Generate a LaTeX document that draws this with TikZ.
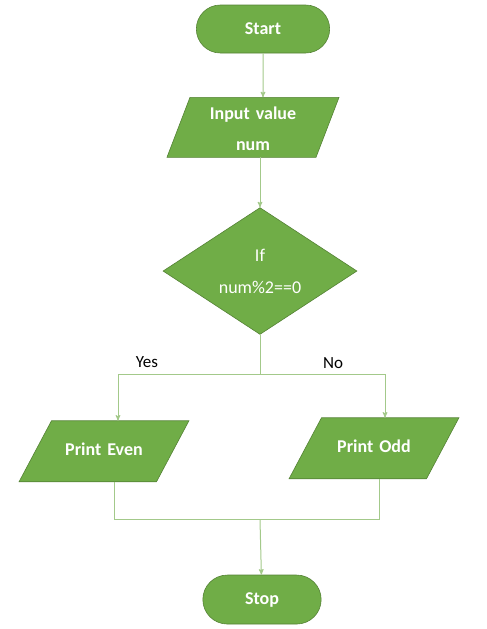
\documentclass[tikz,border=0pt]{standalone}
\usepackage{fontspec}
\setmainfont{Carlito}
\usepackage{tikz}
\usetikzlibrary{arrows,positioning,shapes.geometric,shapes.misc}

\definecolor{boxgreen}{HTML}{70AD47}
\definecolor{edgegreen}{HTML}{548235}
\definecolor{linegreen}{HTML}{A3C98A}

\begin{document}
\begin{tikzpicture}[>=stealth',x=1pt,y=1pt,
  term/.style={rounded rectangle,fill=boxgreen,draw=edgegreen,line width=0.6pt,
  text=white,font=\fontsize{18}{22}\selectfont\bfseries,
  minimum width=140pt,minimum height=48pt},
  io/.style={trapezium,trapezium left angle=62,trapezium right angle=118,
  fill=boxgreen,draw=edgegreen,line width=0.6pt,
  text=white,font=\fontsize{18}{31}\selectfont\bfseries,align=center,
  text width=100pt,text height=12pt,text depth=3pt,
  inner xsep=2.5pt,inner ysep=23pt,outer sep=0pt},
  decision/.style={diamond,fill=boxgreen,draw=edgegreen,line width=0.6pt,
  text=white,font=\fontsize{18}{32}\selectfont,align=center,
  minimum width=194pt,minimum height=126pt,inner sep=0pt},
  line/.style={draw=linegreen,line width=1pt},
  lbl/.style={font=\fontsize{17}{20}\selectfont}]

  \useasboundingbox (0,0) rectangle (487,-629);

  \node[term] (start) at (263,-29) {Start};
  \node[io,trapezium left angle=69,trapezium right angle=111,
    inner xsep=13pt,inner ysep=7pt,text height=15pt,text depth=31pt]
    (input) [below=44pt of start,xshift=-10pt] {Input value\\num};
  \node[decision] (dia) [below=50pt of input,xshift=7pt] {If\\num\%2==0};
  \coordinate[below=40pt of dia.south] (split);
  \node[io] (even) [below=86pt of dia,xshift=-156pt] {Print Even};
  \node[io] (odd) [below=83pt of dia,xshift=114pt] {Print Odd};
  \coordinate[below=145pt of split] (join);
  \node[term,minimum width=125pt,minimum height=49pt] (stop) [below=200pt of split,xshift=2pt] {Stop};

  \node[lbl] (yes) at ([shift={(-113pt,13pt)}]split) {Yes};
  \node[lbl] (no) at ([shift={(73pt,12pt)}]split) {No};

  \draw[line,->] (start) -- (start |- input.north);
  \draw[line,->] (dia.north |- input.south) -- (dia.north);
  \draw[line] (dia.south) -- (split);
  \draw[line,->] (split) -| ([xshift=14pt]even.north);
  \draw[line,->] (split) -| ([xshift=11pt]odd.north);
  \draw[line] ([xshift=10pt]even.south) |- (join) -| ([xshift=5pt]odd.south);
  \draw[line,->] (join) -- (stop);
\end{tikzpicture}
\end{document}
